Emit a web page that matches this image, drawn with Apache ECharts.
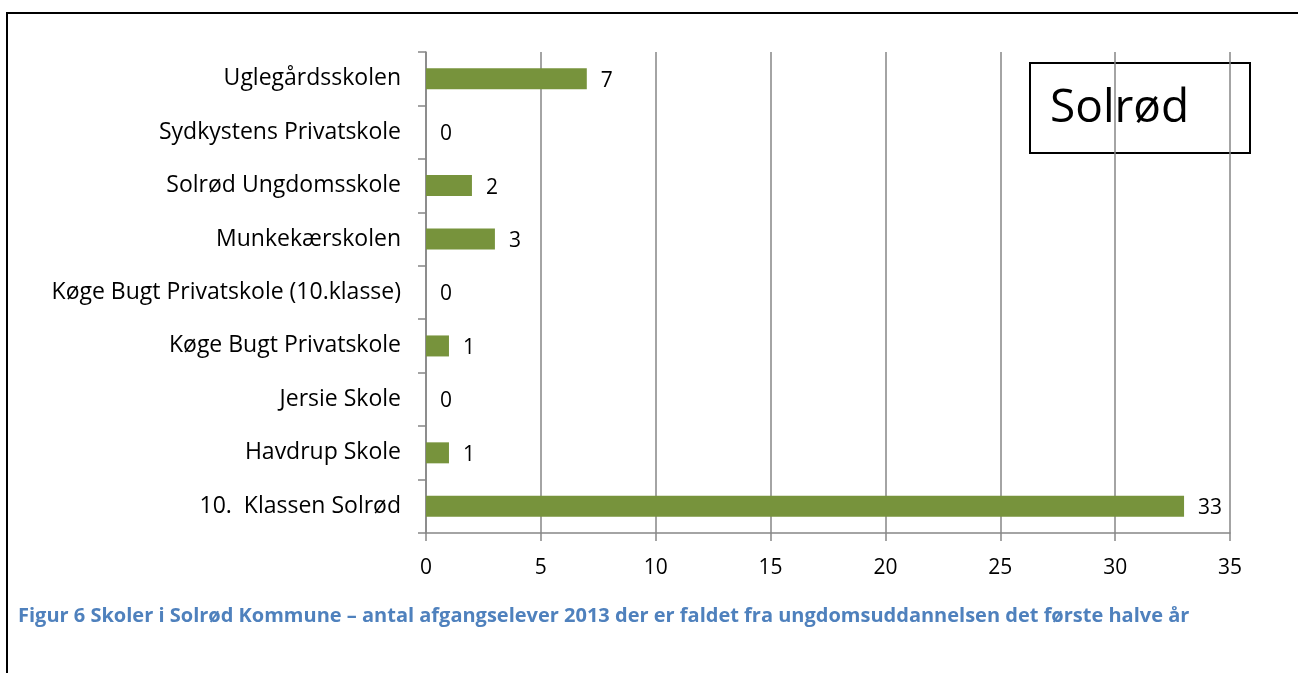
<!DOCTYPE html>
<html>
<head>
<meta charset="utf-8">
<script src="https://cdn.jsdelivr.net/npm/echarts@6/dist/echarts.min.js"></script>
<style>
    html, body {margin: 0; padding: 0; background: #fff;}
    #chart {width: 1298px; height: 673px;}
</style>
</head>
<body>
<div id="chart"></div>
<script>
// 数据部分（从下往上）
var schools = ['10.  Klassen Solrød', 'Havdrup Skole', 'Jersie Skole', 'Køge Bugt Privatskole',
    'Køge Bugt Privatskole (10.klasse)', 'Munkekærskolen', 'Solrød Ungdomsskole',
    'Sydkystens Privatskole', 'Uglegårdsskolen'];
var dropouts = [33, 1, 0, 1, 0, 3, 2, 0, 7];
var xTicks = [0, 5, 10, 15, 20, 25, 30, 35];

var boxTitle = 'Solrød';
var caption = 'Figur 6 Skoler i Solrød Kommune – antal afgangselever 2013 der er faldet fra ungdomsuddannelsen det første halve år';

var FONT = '"Open Sans"';
var GRID_COLOR = '#868686';

var chart = echarts.init(document.getElementById('chart'));

var option = {
    animation: false,
    grid: {
        left: 426,
        right: 68,
        top: 52,
        bottom: 140
    },
    xAxis: {
        type: 'value',
        min: xTicks[0],
        max: xTicks[xTicks.length - 1],
        interval: 5,
        axisLine: {show: true, lineStyle: {color: GRID_COLOR, width: 1.5}},
        axisTick: {show: true, length: 8, lineStyle: {color: GRID_COLOR, width: 1.5}},
        axisLabel: {color: '#000', fontFamily: FONT, fontSize: 21, margin: 25},
        splitLine: {show: true, lineStyle: {color: GRID_COLOR, width: 1.5}}
    },
    yAxis: {
        type: 'category',
        data: schools,
        axisLine: {show: true, lineStyle: {color: GRID_COLOR, width: 1.5}},
        axisTick: {show: true, length: 8, alignWithLabel: false, lineStyle: {color: GRID_COLOR, width: 1.5}},
        axisLabel: {color: '#000', fontFamily: FONT, fontSize: 23, margin: 25, padding: [3, 0, 0, 0]},
        splitLine: {show: false}
    },
    series: [{
        type: 'bar',
        data: dropouts,
        barWidth: 21,
        itemStyle: {color: '#77933C'},
        label: {
            show: true,
            position: 'right',
            distance: 14,
            offset: [0, 2],
            color: '#000',
            fontFamily: FONT,
            fontSize: 21
        }
    }],
    graphic: [
        {
            // 外边框（只有上边和左边）
            type: 'polyline',
            shape: {points: [[7, 680], [7, 13], [1310, 13]]},
            style: {fill: 'none', stroke: '#000', lineWidth: 2}
        },
        {
            type: 'rect',
            shape: {x: 1030, y: 63, width: 220, height: 90},
            style: {fill: '#fff', stroke: '#000', lineWidth: 2}
        },
        {
            type: 'text',
            left: 1050,
            top: 86,
            style: {text: boxTitle, fill: '#000', font: '46px ' + FONT}
        },
        {
            type: 'text',
            left: 18,
            top: 606,
            style: {text: caption, fill: '#4F81BD', font: 'bold 20px ' + FONT}
        }
    ]
};

chart.setOption(option);
</script>
</body>
</html>
